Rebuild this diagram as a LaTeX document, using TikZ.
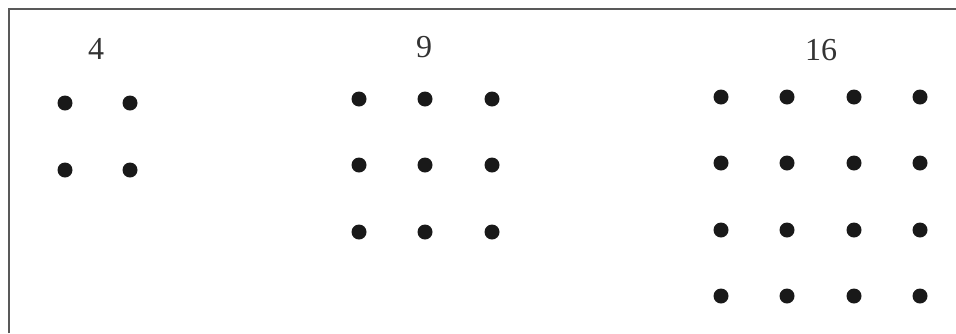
\documentclass[tikz,border=0pt]{standalone}
\usepackage{fontspec}
\setmainfont{Liberation Serif}
\begin{document}
\begin{tikzpicture}[x=1pt,y=-1pt,
  dot/.style={circle,fill=black!90,minimum size=15pt,inner sep=0pt},
  lbl/.style={inner sep=0pt,font=\fontsize{32}{36}\selectfont,text=black!80}]
\useasboundingbox (0,0) rectangle (956,333);
\coordinate (tl) at (8.5,9);
\coordinate (tr) at (956,9);
\coordinate (bl) at (8.5,333);
\draw[line width=2pt,black!65] (bl) -- (tl) -- (tr);
% labels
\node[lbl] (l4) at (96,49) {4};
\node[lbl] (l9) at (424,47) {9};
\node[lbl] (l16) at (821,50) {16};
% group 1
\foreach \i/\x in {1/65,2/130}
  \foreach \j/\y in {1/103,2/170}
    \node[dot] (a\i\j) at (\x,\y) {};
% group 2
\foreach \i/\x in {1/359,2/425,3/492}
  \foreach \j/\y in {1/99,2/165,3/232}
    \node[dot] (b\i\j) at (\x,\y) {};
% group 3
\foreach \i/\x in {1/721,2/787,3/854,4/920}
  \foreach \j/\y in {1/97,2/163,3/230,4/296}
    \node[dot] (c\i\j) at (\x,\y) {};
\end{tikzpicture}
\end{document}
